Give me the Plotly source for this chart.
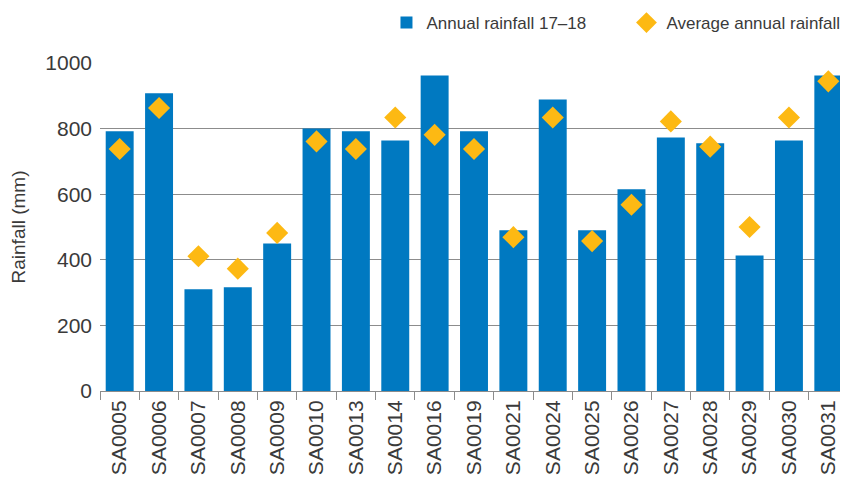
import plotly.graph_objects as go

sites = ["SA0005", "SA0006", "SA0007", "SA0008", "SA0009", "SA0010", "SA0013",
         "SA0014", "SA0016", "SA0019", "SA0021", "SA0024", "SA0025", "SA0026",
         "SA0027", "SA0028", "SA0029", "SA0030", "SA0031"]
annual_17_18 = [792, 908, 310, 316, 450, 800, 792, 764, 962, 792, 490, 889, 490,
                615, 773, 755, 413, 764, 962]
average_annual = [738, 863, 411, 373, 482, 761, 738, 834, 781, 738, 469, 834, 457,
                  568, 822, 745, 500, 834, 944]
y_ticks = [0, 200, 400, 600, 800, 1000]

FONT = "Liberation Sans, Arial, sans-serif"
TXT = "#3a3a3a"

fig = go.Figure()
fig.add_trace(go.Bar(x=sites, y=annual_17_18, name="Annual rainfall 17\u201318",
                     marker=dict(color="#0079C1", line=dict(width=0))))
fig.add_trace(go.Scatter(x=sites, y=average_annual, name="Average annual rainfall",
                         mode="markers",
                         marker=dict(symbol="diamond", size=17, color="#FDB913",
                                     line=dict(width=0))))

# page body has an 8px default margin, so the figure is 8px smaller and margins reduced
fig.update_layout(
    width=840, height=471,
    margin=dict(l=92, r=0, t=55, b=88, autoexpand=False),
    paper_bgcolor="white", plot_bgcolor="white",
    font=dict(family=FONT, color=TXT, size=16),
    bargap=0.29,
    showlegend=True,
    legend=dict(orientation="h", x=1.0247, xanchor="right", y=1.122, yanchor="middle",
                font=dict(size=17, color=TXT), itemwidth=30,
                entrywidth=195, entrywidthmode="pixels",
                bgcolor="rgba(0,0,0,0)", borderwidth=0),
    xaxis=dict(type="category", range=[-0.5, len(sites) - 0.5],
               showline=True, linecolor="#8c8c8c", linewidth=1,
               ticks="outside", tickson="boundaries", ticklen=8, tickcolor="#8c8c8c",
               tickangle=-90, tickfont=dict(size=21, color=TXT), showgrid=False,
               automargin=False),
    yaxis=dict(range=[0, 1000], tickvals=y_ticks,
               showgrid=True, gridcolor="#8c8c8c", gridwidth=1,
               ticks="", ticklabelstandoff=7,
               showline=False, zeroline=False, automargin=False,
               tickfont=dict(size=21, color=TXT),
               title=dict(text="Rainfall (mm)", font=dict(size=19, color=TXT), standoff=14)),
)

fig.write_html("out.html")
